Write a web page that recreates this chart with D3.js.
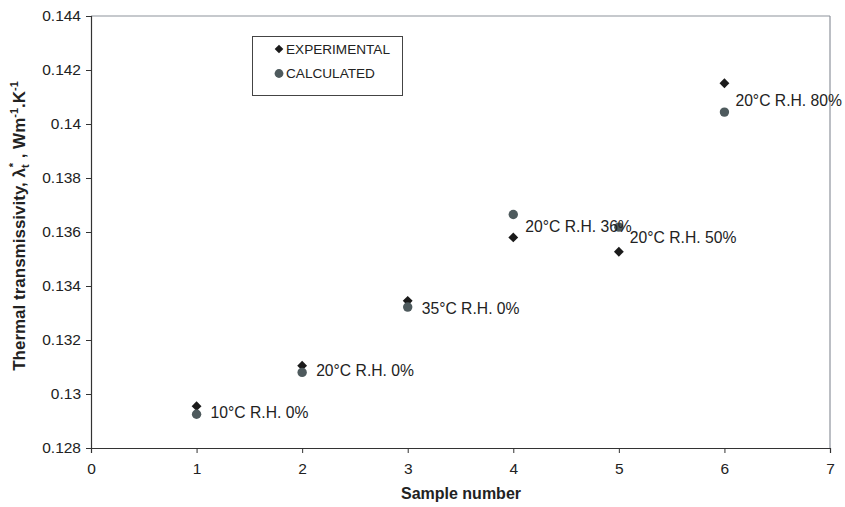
<!DOCTYPE html>
<html>
<head>
<meta charset="utf-8">
<script src="https://cdn.jsdelivr.net/npm/d3@7"></script>
<style>
  body { margin: 0; background: #fff; }
  svg { display: block; font-family: "Liberation Sans", Arial, sans-serif; }
</style>
</head>
<body>
<svg id="chart" width="845" height="507"></svg>
<script>
// ---- data ----
const samples = [1, 2, 3, 4, 5, 6];
const experimental = [0.12955, 0.13105, 0.13345, 0.1358, 0.13527, 0.14151];
const calculated   = [0.12925, 0.1308, 0.13322, 0.13665, 0.13618, 0.14044];
const conditions = ["10°C R.H. 0%", "20°C R.H. 0%", "35°C R.H. 0%", "20°C R.H. 36%", "20°C R.H. 50%", "20°C R.H. 80%"];
const xTicks = [0, 1, 2, 3, 4, 5, 6, 7];
const yTicks = [0.128, 0.13, 0.132, 0.134, 0.136, 0.138, 0.14, 0.142, 0.144];
const legendNames = ["EXPERIMENTAL", "CALCULATED"];

// ---- layout ----
const svg = d3.select("#chart");
const pL = 91, pR = 830, pT = 16, pB = 448;
const x = d3.scaleLinear().domain([0, 7]).range([pL, pR]);
const y = d3.scaleLinear().domain([0.128, 0.144]).range([pB, pT]);
const diamondColor = "#1b1b1b", circleColor = "#4e5a5d";
const labelOffsets = [[14, -2], [14, -2], [14, 1], [12, 12], [11, 10], [11, -12]];

// plot border (top/right lighter)
svg.append("line").attr("x1", pL).attr("x2", pR).attr("y1", pT).attr("y2", pT)
  .attr("stroke", "#8e939c").attr("stroke-width", 1.2);
svg.append("line").attr("x1", pR).attr("x2", pR).attr("y1", pT).attr("y2", pB)
  .attr("stroke", "#8e939c").attr("stroke-width", 1.2);

// axes
const xAxis = svg.append("g").attr("transform", `translate(0,${pB})`)
  .call(d3.axisBottom(x).tickValues(xTicks).tickSize(5).tickPadding(10).tickFormat(d3.format("d")));
const yAxis = svg.append("g").attr("transform", `translate(${pL},0)`)
  .call(d3.axisLeft(y).tickValues(yTicks).tickSize(5).tickPadding(5).tickFormat(d => String(+d.toFixed(3))));
[xAxis, yAxis].forEach(g => {
  g.select(".domain").attr("stroke", "#333").attr("stroke-width", 1.2);
  g.selectAll(".tick line").attr("stroke", "#333").attr("stroke-width", 1);
  g.selectAll(".tick text").attr("fill", "#222").style("font-size", "15.5px")
    .style("font-family", '"Liberation Sans", Arial, sans-serif');
});

// markers
const diamond = d3.symbol().type(d3.symbolDiamond2).size(62);
svg.append("g").selectAll("path").data(samples).join("path")
  .attr("d", diamond)
  .attr("transform", (d, i) => `translate(${x(d)},${y(experimental[i])})`)
  .attr("fill", diamondColor);
svg.append("g").selectAll("circle").data(samples).join("circle")
  .attr("cx", d => x(d)).attr("cy", (d, i) => y(calculated[i])).attr("r", 4.7)
  .attr("fill", circleColor);

// point labels
svg.append("g").selectAll("text").data(samples).join("text")
  .attr("x", (d, i) => x(d) + labelOffsets[i][0])
  .attr("y", (d, i) => y(calculated[i]) + labelOffsets[i][1])
  .attr("dy", "0.35em")
  .attr("fill", "#222").style("font-size", "15.7px")
  .text((d, i) => conditions[i]);

// legend
const lg = svg.append("g");
lg.append("rect").attr("x", 252.5).attr("y", 36.5).attr("width", 150).attr("height", 59)
  .attr("fill", "#fff").attr("stroke", "#444").attr("stroke-width", 1);
lg.append("path").attr("d", d3.symbol().type(d3.symbolDiamond2).size(48))
  .attr("transform", "translate(279,49)").attr("fill", diamondColor);
lg.append("circle").attr("cx", 279).attr("cy", 73.5).attr("r", 4.4).attr("fill", circleColor);
lg.selectAll("text").data(legendNames).join("text")
  .attr("x", 286).attr("y", (d, i) => 49 + i * 24.5).attr("dy", "0.35em")
  .attr("fill", "#222").style("font-size", "13.6px").text(d => d);

// axis titles
svg.append("text").attr("x", 461).attr("y", 499)
  .attr("text-anchor", "middle").style("font-size", "16px").style("font-weight", "bold")
  .attr("fill", "#222").text("Sample number");

const yt = svg.append("text")
  .attr("transform", `translate(25,226) rotate(-90)`)
  .attr("text-anchor", "middle").style("font-size", "17px").style("font-weight", "bold")
  .attr("fill", "#222");
yt.append("tspan").text("Thermal transmissivity,  λ");
yt.append("tspan").attr("dy", 4).style("font-size", "11px").text("t");
yt.append("tspan").attr("dx", -3).attr("dy", -12).style("font-size", "11px").text("*");
yt.append("tspan").attr("dy", 8).text(" , Wm");
yt.append("tspan").attr("dy", -7).style("font-size", "11px").text("-1");
yt.append("tspan").attr("dy", 7).text(".K");
yt.append("tspan").attr("dy", -7).style("font-size", "11px").text("-1");
</script>
</body>
</html>
